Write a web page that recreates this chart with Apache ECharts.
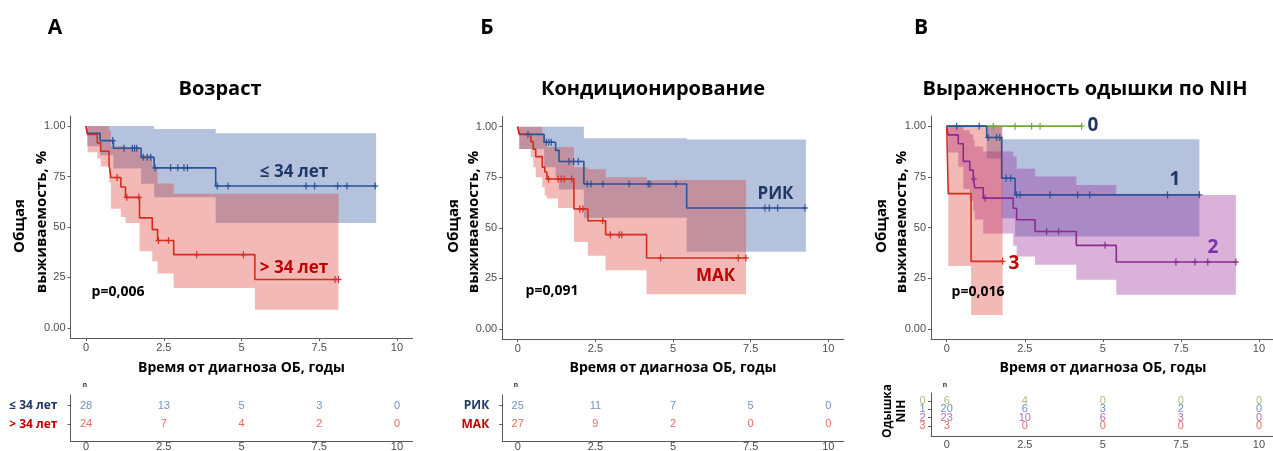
<!DOCTYPE html>
<html><head><meta charset="utf-8">
<script src="https://cdn.jsdelivr.net/npm/echarts@6/dist/echarts.min.js"></script>
<style>html,body{margin:0;padding:0;background:#fff}#c{width:1273px;height:451px}</style>
</head><body><div id="c"></div>
<script>
// ---------- ticks ----------
const xTickValues = [0, 2.5, 5, 7.5, 10];
const xTickLabels = ['0', '2.5', '5', '7.5', '10'];
const yTickValues = [0, 0.25, 0.5, 0.75, 1];
const yTickLabels = ['0.00', '25', '50', '75', '1.00'];
const riskTimes = [0, 2.5, 5, 7.5, 10];

// ---------- Panel A: age ----------
const aYoungT = [0, 0.04, 0.45, 0.88, 1.77, 2.19, 4.17, 9.33];
const aYoungS = [1, 0.964, 0.928, 0.890, 0.845, 0.793, 0.703, 0.703];
const aYoungCensor = [0.86, 1.22, 1.49, 1.56, 1.63, 1.84, 1.97, 2.08, 2.22, 2.72, 2.95, 3.15, 3.26, 4.22, 4.57, 7.08, 7.35, 8.09, 8.39, 9.30];
const aYoungBandT = [0, 0.04, 0.45, 0.88, 1.77, 2.19, 4.17];
const aYoungBandUp = [1, 1, 1, 1, 1, 0.985, 0.965];
const aYoungBandLo = [1, 0.90, 0.855, 0.79, 0.714, 0.648, 0.52];

const aOldT = [0, 0.05, 0.36, 0.47, 0.74, 0.80, 1.12, 1.27, 1.72, 2.13, 2.30, 2.82, 5.43, 8.12];
const aOldS = [1, 0.958, 0.917, 0.875, 0.81, 0.745, 0.698, 0.647, 0.545, 0.487, 0.433, 0.363, 0.24, 0.24];
const aOldCensor = [1.0, 1.31, 1.70, 2.33, 2.65, 3.56, 5.06, 8.01, 8.12];
const aOldBandT = [0, 0.05, 0.36, 0.47, 0.74, 0.80, 1.12, 1.27, 1.72, 2.13, 2.30, 2.82, 5.43];
const aOldBandUp = [1, 1, 1, 1, 0.98, 0.90, 0.90, 0.895, 0.855, 0.80, 0.715, 0.665, 0.665];
const aOldBandLo = [1, 0.87, 0.84, 0.80, 0.72, 0.59, 0.55, 0.52, 0.38, 0.33, 0.27, 0.198, 0.09];

const aRiskRows = ['≤ 34 лет', '> 34 лет'];
const aRiskYoung = [28, 13, 5, 3, 0];
const aRiskOld = [24, 7, 4, 2, 0];

// ---------- Panel B: conditioning ----------
const bRicT = [0, 0.05, 0.85, 1.22, 1.33, 2.13, 5.44, 9.28];
const bRicS = [1, 0.962, 0.923, 0.883, 0.828, 0.717, 0.598, 0.598];
const bRicCensor = [0.33, 0.92, 1.0, 1.08, 1.65, 1.80, 1.95, 2.24, 2.36, 2.74, 3.59, 4.20, 4.26, 5.10, 7.96, 8.10, 8.37, 9.25];
const bRicBandT = [0, 0.05, 0.85, 1.22, 1.33, 2.13, 5.44];
const bRicBandUp = [1, 1, 1, 1, 1, 0.943, 0.937];
const bRicBandLo = [1, 0.89, 0.80, 0.75, 0.69, 0.55, 0.382];

const bMacT = [0, 0.05, 0.42, 0.50, 0.58, 0.79, 0.87, 0.94, 1.81, 2.26, 2.83, 4.15, 7.35];
const bMacS = [1, 0.963, 0.926, 0.889, 0.852, 0.80, 0.776, 0.741, 0.593, 0.535, 0.466, 0.351, 0.351];
const bMacCensor = [0.99, 1.30, 1.40, 1.50, 1.74, 2.00, 2.10, 2.74, 2.98, 3.27, 3.35, 4.60, 7.10, 7.35];
const bMacBandT = [0, 0.05, 0.42, 0.50, 0.58, 0.79, 0.87, 0.94, 1.30, 1.81, 2.26, 2.83, 4.15];
const bMacBandUp = [1, 1, 1, 1, 1, 0.96, 0.93, 0.90, 0.90, 0.80, 0.79, 0.75, 0.736];
const bMacBandLo = [1, 0.89, 0.85, 0.80, 0.75, 0.70, 0.66, 0.645, 0.598, 0.43, 0.362, 0.29, 0.171];

const bRiskRows = ['РИК', 'МАК'];
const bRiskRic = [25, 11, 7, 5, 0];
const bRiskMac = [27, 9, 2, 0, 0];

// ---------- Panel C: dyspnea NIH ----------
const c0T = [0, 4.32];
const c0S = [1, 1];
const c0Censor = [1.49, 2.19, 2.72, 2.99, 4.32];

const c1T = [0, 1.28, 1.76, 2.19, 8.09];
const c1S = [1, 0.944, 0.743, 0.661, 0.661];
const c1Censor = [0.32, 1.04, 1.33, 1.60, 1.70, 1.90, 2.05, 2.24, 2.35, 3.31, 4.19, 4.58, 7.07, 8.09];
const c1BandT = [0, 1.28, 1.76, 2.19];
const c1BandUp = [1, 1, 0.935, 0.935];
const c1BandLo = [1, 0.84, 0.546, 0.456];

const c2T = [0, 0.04, 0.37, 0.53, 0.74, 0.85, 0.90, 1.17, 2.13, 2.24, 2.83, 4.15, 5.43, 9.26];
const c2S = [1, 0.957, 0.913, 0.826, 0.783, 0.739, 0.696, 0.645, 0.595, 0.538, 0.480, 0.412, 0.330, 0.330];
const c2Censor = [0.87, 1.23, 3.20, 3.58, 5.07, 7.34, 7.95, 8.36, 9.26];
const c2BandT = [0, 0.04, 0.37, 0.53, 0.74, 0.85, 0.90, 1.17, 2.13, 2.24, 2.83, 4.15, 5.43];
const c2BandUp = [1, 1, 1, 0.98, 0.96, 0.93, 0.90, 0.875, 0.85, 0.79, 0.752, 0.71, 0.66];
const c2BandLo = [1, 0.87, 0.80, 0.69, 0.63, 0.58, 0.54, 0.47, 0.41, 0.357, 0.316, 0.242, 0.168];

const c3T = [0, 0.05, 0.78, 1.79];
const c3S = [1, 0.667, 0.333, 0.333];
const c3Censor = [1.79];
const c3BandT = [0, 0.05, 0.78];
const c3BandUp = [1, 1, 1];
const c3BandLo = [1, 0.31, 0.069];

const cRiskRows = ['0', '1', '2', '3'];
const cRisk0 = [6, 4, 0, 0, 0];
const cRisk1 = [20, 6, 3, 2, 0];
const cRisk2 = [23, 10, 6, 3, 0];
const cRisk3 = [3, 0, 0, 0, 0];

// ---------- styles ----------
const FONT = "'Open Sans', 'Noto Sans', sans-serif";
const TFONT = "'Liberation Sans', Arial, sans-serif";
const AXC = '#5a5a5a';
const TICKC = '#4d4d4d';
const BLUE = '#2b5399', RED = '#d62c1f', GREEN = '#72a83c', PURPLE = '#8e2a8e';
const BLUE_BAND = 'rgba(40,80,160,0.35)', RED_BAND = 'rgba(220,50,40,0.34)', PURPLE_BAND = 'rgba(150,40,150,0.36)';
const NAVY = '#1f3864', DRED = '#c00000', DPURPLE = '#7a30a8';
const C_ROW_COLORS = ['#8db35b', '#4a72b8', '#a347a3', '#e04b3c'];

const grids = [
  {left: 70.5, top: 116, width: 342, height: 222},
  {left: 502.2, top: 116.6, width: 341.6, height: 222.4},
  {left: 931.1, top: 116, width: 343.5, height: 223},
  {left: 70.5, top: 395, width: 342, height: 46},
  {left: 502.2, top: 395, width: 341.6, height: 46},
  {left: 931.1, top: 393, width: 343.5, height: 43}
].map(g => Object.assign({containLabel: false, outerBoundsMode: 'none'}, g));

function mainX(i) {
  return {type: 'value', gridIndex: i, min: -0.5, max: 10.5,
    axisLine: {show: true, onZero: false, lineStyle: {color: AXC, width: 1}},
    axisTick: {show: true, length: 3, customValues: xTickValues, lineStyle: {color: AXC}},
    axisLabel: {customValues: xTickValues, formatter: v => xTickLabels[xTickValues.indexOf(v)], margin: 4, color: TICKC, fontSize: 11, fontFamily: TFONT,
      showMinLabel: true, showMaxLabel: true, hideOverlap: false},
    splitLine: {show: false}};
}
function mainY(i) {
  return {type: 'value', gridIndex: i, min: -0.05, max: 1.05,
    axisLine: {show: true, onZero: false, lineStyle: {color: AXC, width: 1}},
    axisTick: {show: true, length: 3, customValues: yTickValues, lineStyle: {color: AXC}},
    axisLabel: {customValues: yTickValues, formatter: v => yTickLabels[yTickValues.indexOf(v)], margin: 5, color: TICKC, fontSize: 11, fontFamily: TFONT,
      showMinLabel: true, showMaxLabel: true, hideOverlap: false},
    splitLine: {show: false}};
}
function riskX(i, margin) {
  const a = mainX(i);
  a.axisLabel.margin = margin;
  a.axisTick.show = false;
  return a;
}
function riskY(i, rows, min, max, colors, fs, margin, showLabels) {
  const rich = {};
  rows.forEach((r, k) => { rich['r' + k] = {color: colors[k], fontSize: fs, fontWeight: 'bold', fontFamily: FONT}; });
  const vals = rows.map((r, k) => k + 1);
  return {type: 'value', gridIndex: i, min: min, max: max, inverse: true,
    axisLine: {show: true, onZero: false, lineStyle: {color: AXC, width: 1}},
    axisTick: {show: true, length: 3, customValues: vals, lineStyle: {color: AXC}},
    axisLabel: {show: showLabels, customValues: vals, formatter: v => '{r' + (v - 1) + '|' + rows[v - 1] + '}', rich: rich, margin: margin,
      showMinLabel: true, showMaxLabel: true, hideOverlap: false},
    splitLine: {show: false}};
}

function stepValue(ts, ss, t) {
  let v = ss[0];
  for (let i = 0; i < ts.length; i++) { if (ts[i] <= t + 1e-9) v = ss[i]; }
  return v;
}
function curve(gi, ts, ss, color) {
  return {type: 'line', xAxisIndex: gi, yAxisIndex: gi, step: 'end', showSymbol: false, symbol: 'none',
    data: ts.map((t, i) => [t, ss[i]]), lineStyle: {color: color, width: 1.6}, z: 5, animation: false, silent: true};
}
function censor(gi, ts, ss, cs, color) {
  return {type: 'custom', xAxisIndex: gi, yAxisIndex: gi, z: 6, silent: true,
    data: cs.map(t => [t, stepValue(ts, ss, t)]),
    renderItem: (params, api) => {
      const p = api.coord([api.value(0), api.value(1)]);
      const st = {stroke: color, lineWidth: 1.2};
      return {type: 'group', children: [
        {type: 'line', shape: {x1: p[0] - 3, y1: p[1], x2: p[0] + 3, y2: p[1]}, style: st},
        {type: 'line', shape: {x1: p[0], y1: p[1] - 3.5, x2: p[0], y2: p[1] + 3.5}, style: st}
      ]};
    }};
}
function band(gi, bt, up, lo, end, color) {
  return {type: 'custom', xAxisIndex: gi, yAxisIndex: gi, z: 2, silent: true, clip: true,
    data: [[bt[0], up[0]]],
    renderItem: (params, api) => {
      const n = bt.length, pts = [];
      for (let i = 0; i < n; i++) {
        const t1 = i + 1 < n ? bt[i + 1] : end;
        pts.push(api.coord([bt[i], up[i]]), api.coord([t1, up[i]]));
      }
      for (let i = n - 1; i >= 0; i--) {
        const t1 = i + 1 < n ? bt[i + 1] : end;
        pts.push(api.coord([t1, lo[i]]), api.coord([bt[i], lo[i]]));
      }
      return {type: 'polygon', shape: {points: pts}, style: {fill: color, stroke: null}};
    }};
}
function riskRow(gi, row, counts, color) {
  return {type: 'scatter', xAxisIndex: gi, yAxisIndex: gi, symbol: 'circle', symbolSize: 1,
    itemStyle: {color: 'rgba(255,255,255,0)'}, silent: true, z: 5,
    data: riskTimes.map((t, i) => [t, row, counts[i]]),
    label: {show: true, position: 'inside', formatter: p => String(p.value[2]), color: color, fontSize: 11, fontFamily: TFONT}};
}
// row names placed just left of the risk-table axis (at the axis minimum), one label per row
function riskRowNames(gi, rows, colors) {
  return {type: 'scatter', xAxisIndex: gi, yAxisIndex: gi, symbol: 'circle', symbolSize: 1, clip: false,
    itemStyle: {color: 'rgba(255,255,255,0)'}, silent: true, z: 5,
    data: rows.map((r, k) => ({value: [-0.5, k + 1], label: {color: colors[k]}})),
    label: {show: true, position: 'left', distance: 5, formatter: p => rows[p.dataIndex], fontSize: 11, fontFamily: TFONT}};
}

const series = [
  // A
  band(0, aYoungBandT, aYoungBandUp, aYoungBandLo, aYoungT[aYoungT.length - 1], BLUE_BAND),
  band(0, aOldBandT, aOldBandUp, aOldBandLo, aOldT[aOldT.length - 1], RED_BAND),
  curve(0, aYoungT, aYoungS, BLUE), curve(0, aOldT, aOldS, RED),
  censor(0, aYoungT, aYoungS, aYoungCensor, BLUE), censor(0, aOldT, aOldS, aOldCensor, RED),
  riskRow(3, 1, aRiskYoung, '#4f74b3'), riskRow(3, 2, aRiskOld, '#e0473a'),
  // B
  band(1, bRicBandT, bRicBandUp, bRicBandLo, bRicT[bRicT.length - 1], BLUE_BAND),
  band(1, bMacBandT, bMacBandUp, bMacBandLo, bMacT[bMacT.length - 1], RED_BAND),
  curve(1, bRicT, bRicS, BLUE), curve(1, bMacT, bMacS, RED),
  censor(1, bRicT, bRicS, bRicCensor, BLUE), censor(1, bMacT, bMacS, bMacCensor, RED),
  riskRow(4, 1, bRiskRic, '#4f74b3'), riskRow(4, 2, bRiskMac, '#e0473a'),
  // C
  band(2, c1BandT, c1BandUp, c1BandLo, c1T[c1T.length - 1], BLUE_BAND),
  band(2, c2BandT, c2BandUp, c2BandLo, c2T[c2T.length - 1], PURPLE_BAND),
  band(2, c3BandT, c3BandUp, c3BandLo, c3T[c3T.length - 1], RED_BAND),
  curve(2, c0T, c0S, GREEN), curve(2, c1T, c1S, BLUE), curve(2, c2T, c2S, PURPLE), curve(2, c3T, c3S, RED),
  censor(2, c0T, c0S, c0Censor, GREEN), censor(2, c1T, c1S, c1Censor, BLUE),
  censor(2, c2T, c2S, c2Censor, PURPLE), censor(2, c3T, c3S, c3Censor, RED),
  riskRow(5, 1, cRisk0, C_ROW_COLORS[0]), riskRow(5, 2, cRisk1, C_ROW_COLORS[1]),
  riskRow(5, 3, cRisk2, C_ROW_COLORS[2]), riskRow(5, 4, cRisk3, C_ROW_COLORS[3]),
  riskRowNames(5, cRiskRows, C_ROW_COLORS)
];

function T(x, y, text, size, color, rot, family) {
  const o = {type: 'text', x: x, y: y, silent: true, z: 20,
    style: {text: text, fontSize: size, fontWeight: 'bold', fontFamily: family || FONT, fill: color || '#000', align: 'center', verticalAlign: 'middle'}};
  if (rot) o.rotation = rot;
  return o;
}
const R = Math.PI / 2;
const XNAME = 'Время от диагноза ОБ, годы';
const graphic = [
  T(55, 28, 'А', 21), T(487, 28, 'Б', 21), T(921, 28, 'В', 21),
  T(220, 89, 'Возраст', 20), T(653, 89, 'Кондиционирование', 20), T(1085, 89, 'Выраженность одышки по NIH', 20),
  T(20, 226, 'Общая', 15, '#000', R), T(41.7, 222, 'выживаемость, %', 15, '#000', R),
  T(453.3, 226, 'Общая', 15, '#000', R), T(473.5, 222, 'выживаемость, %', 15, '#000', R),
  T(881.7, 226, 'Общая', 15, '#000', R), T(901.7, 222, 'выживаемость, %', 15, '#000', R),
  T(241.5, 368.5, XNAME, 14), T(673, 368.5, XNAME, 14), T(1103, 368.5, XNAME, 14),
  T(294, 172, '≤ 34 лет', 17, NAVY), T(294, 268, '> 34 лет', 17, DRED), T(118, 292, 'p=0,006', 14),
  T(775.5, 194, 'РИК', 17, NAVY), T(715.5, 276, 'МАК', 17, DRED), T(552, 291, 'p=0,091', 14),
  T(1093, 126, '0', 19, NAVY), T(1175, 180, '1', 19, NAVY), T(1213, 248, '2', 19, DPURPLE), T(1014, 264, '3', 19, DRED),
  T(978, 292, 'p=0,016', 14),
  T(85, 385, 'n', 7, '#222', 0, TFONT), T(516, 385, 'n', 7, '#222', 0, TFONT), T(945, 385, 'n', 7, '#222', 0, TFONT),
  T(888, 411, 'Одышка', 12, '#000', R), T(901.5, 411, 'NIH', 12, '#000', R)
];

const option = {
  animation: false,
  backgroundColor: '#fff',
  grid: grids,
  xAxis: [mainX(0), mainX(1), mainX(2), riskX(3, 0), riskX(4, 0), riskX(5, 3)],
  yAxis: [mainY(0), mainY(1), mainY(2),
    riskY(3, aRiskRows, 0.425, 2.9, [NAVY, DRED], 12, 13, true),
    riskY(4, bRiskRows, 0.425, 2.9, [NAVY, DRED], 12, 13, true),
    riskY(5, cRiskRows, 0.04, 5.2, C_ROW_COLORS, 11, 4, false)],
  series: series,
  graphic: graphic
};
const chart = echarts.init(document.getElementById('c'), null, {renderer: 'canvas'});
chart.setOption(option);
</script></body></html>
